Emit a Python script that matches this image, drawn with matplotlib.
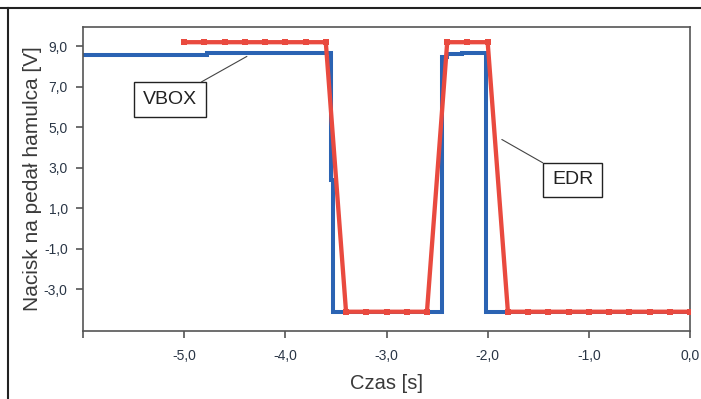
import matplotlib.pyplot as plt
from matplotlib.lines import Line2D
from matplotlib.ticker import FixedLocator

plt.rcParams['font.family'] = ['Liberation Sans', 'DejaVu Sans']

# VBOX signal (stepped trace)
vbox_t = [-6.0, -4.77, -4.77, -3.55, -3.55, -3.53, -3.53, -2.45, -2.45, -2.40, -2.40,
          -2.25, -2.25, -2.02, -2.02, 0.0]
vbox_v = [8.56, 8.56, 8.65, 8.65, 2.4, 2.4, -4.1, -4.1, 8.45, 8.45, 8.6,
          8.6, 8.68, 8.68, -4.1, -4.1]

# EDR samples every 0.2 s
edr_t = [-5.0, -4.8, -4.6, -4.4, -4.2, -4.0, -3.8, -3.6, -3.4, -3.2, -3.0, -2.8, -2.6,
         -2.4, -2.2, -2.0, -1.8, -1.6, -1.4, -1.2, -1.0, -0.8, -0.6, -0.4, -0.2, 0.0]
edr_v = [9.2, 9.2, 9.2, 9.2, 9.2, 9.2, 9.2, 9.2, -4.1, -4.1, -4.1, -4.1, -4.1,
         9.2, 9.2, 9.2, -4.1, -4.1, -4.1, -4.1, -4.1, -4.1, -4.1, -4.1, -4.1, -4.1]

xticks = [-5.0, -4.0, -3.0, -2.0, -1.0, 0.0]
yticks = [-3.0, -1.0, 1.0, 3.0, 5.0, 7.0, 9.0]

fig = plt.figure(figsize=(7.01, 3.99), dpi=100)
ax = fig.add_axes([83/701, 68/399, 607/701, 304/399])

ax.plot(vbox_t, vbox_v, color='#2b63b3', lw=2.9, solid_joinstyle='miter', zorder=2)
ax.plot(edr_t, edr_v, color='#e94a3f', lw=3.1, marker='s', markersize=5,
        markeredgewidth=0, zorder=3)

ax.set_xlim(-6.0, 0.0)
ax.set_ylim(-5.05, 9.95)
ax.xaxis.set_major_locator(FixedLocator([-6.0] + xticks))
ax.set_xticklabels([''] + [f'{t:.1f}'.replace('.', ',') for t in xticks])
ax.set_yticks(yticks)
ax.set_yticklabels([f'{t:.1f}'.replace('.', ',') for t in yticks])

for s in ax.spines.values():
    s.set_color('#555555')
    s.set_linewidth(1.2)
ax.tick_params(axis='both', direction='out', length=5, width=1.2, color='#555555',
               labelsize=10, labelcolor='#2a3646', pad=6)
ax.tick_params(axis='x', pad=8)

ax.set_xlabel('Czas [s]', fontsize=14.5, color='#3a3a3a', labelpad=8)
ax.set_ylabel('Nacisk na pedał hamulca [V]', fontsize=15, color='#3a3a3a', labelpad=1)

box = dict(boxstyle='square,pad=0.45', fc='white', ec='#222222', lw=1.0)
ax.annotate('VBOX', xy=(-4.38, 8.5), xytext=(-5.14, 6.37), fontsize=14, color='#222222',
            ha='center', va='center', bbox=box,
            arrowprops=dict(arrowstyle='-', color='#444444', lw=0.8, shrinkA=0, shrinkB=0))
ax.annotate('EDR', xy=(-1.86, 4.4), xytext=(-1.16, 2.41), fontsize=14, color='#222222',
            ha='center', va='center', bbox=box,
            arrowprops=dict(arrowstyle='-', color='#444444', lw=0.8, shrinkA=0, shrinkB=0))

# outer frame
fig.add_artist(Line2D([0, 1], [1 - 7.5/399, 1 - 7.5/399], color='#222222', lw=1.5))
fig.add_artist(Line2D([7.5/701, 7.5/701], [0, 1 - 7.5/399], color='#222222', lw=1.5))

fig.savefig('out.png', dpi=100)
